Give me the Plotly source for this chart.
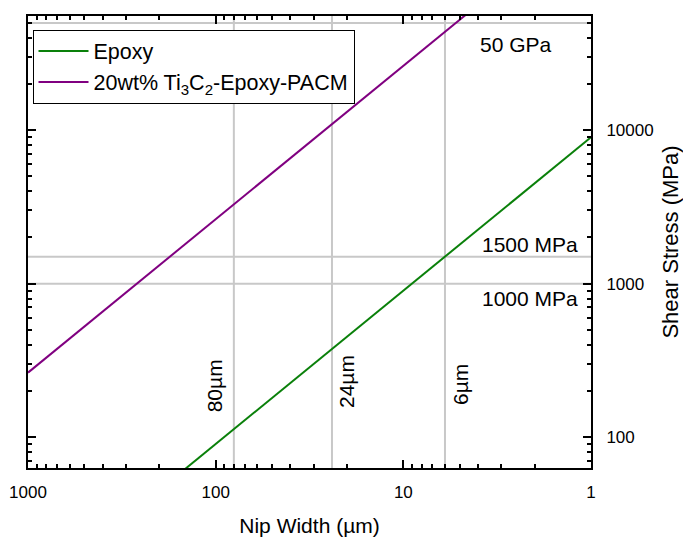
import math
import plotly.graph_objects as go

# Data
nip_width_um = [1000, 100, 10, 1]
stress_epoxy = [9, 90, 900, 9000]
stress_ti3c2 = [263, 2630, 26300, 263000]
ref_widths = [80, 24, 6]
ref_width_labels = ["80µm", "24µm", "6µm"]
ref_stresses = [50000, 1500, 1000]
ref_stress_labels = ["50 GPa", "1500 MPa", "1000 MPa"]

FONT = "Liberation Sans, Arial, sans-serif"
GRAY = "#c8c8c8"

x_minor = [m * 10 ** d for d in range(0, 3) for m in range(2, 10)]
y_minor = [m * 10 ** d for d in range(1, 5) for m in range(2, 10)]

fig = go.Figure()

for w in ref_widths:
    fig.add_trace(go.Scatter(x=[w, w], y=[10, 1e6], mode="lines",
                             line=dict(color=GRAY, width=2), showlegend=False, hoverinfo="skip"))
for s in ref_stresses:
    fig.add_trace(go.Scatter(x=[1e4, 0.1], y=[s, s], mode="lines",
                             line=dict(color=GRAY, width=2), showlegend=False, hoverinfo="skip"))

fig.add_trace(go.Scatter(x=nip_width_um, y=stress_epoxy, mode="lines", name="Epoxy",
                         line=dict(color="#0a800a", width=2)))
fig.add_trace(go.Scatter(x=nip_width_um, y=stress_ti3c2, mode="lines",
                         name="20wt% Ti<sub>3</sub>C<sub>2</sub>-Epoxy-PACM",
                         line=dict(color="#800080", width=2)))

AF = dict(size=21, color="black", family=FONT)
fig.add_annotation(x=0.40, y=math.log10(ref_stresses[0]), xref="x", yref="y", text=ref_stress_labels[0],
                   showarrow=False, yshift=-21, font=AF)
fig.add_annotation(x=0.325, y=math.log10(ref_stresses[1]), xref="x", yref="y", text=ref_stress_labels[1],
                   showarrow=False, yshift=12, font=AF)
fig.add_annotation(x=0.325, y=math.log10(ref_stresses[2]), xref="x", yref="y", text=ref_stress_labels[2],
                   showarrow=False, yshift=-15, font=AF)

label_shift = [(-19, 2.336), (14, 2.365), (16, 2.346)]
for w, txt, (xs, yl) in zip(ref_widths, ref_width_labels, label_shift):
    fig.add_annotation(x=math.log10(w), y=yl, xref="x", yref="y", text=txt,
                       showarrow=False, textangle=-90, xshift=xs, font=AF)

TF = dict(size=17, family=FONT, color="black")
fig.update_xaxes(type="log", range=[3, 0], showgrid=False, zeroline=False, automargin=False,
                 showline=True, linecolor="black", linewidth=2, mirror="ticks",
                 ticks="inside", ticklen=8, tickwidth=1.5, tickcolor="black",
                 tickvals=[1000, 100, 10, 1], ticktext=["1000", "100", "10", "1"],
                 ticklabelstandoff=8,
                 minor=dict(tickvals=x_minor, ticks="inside", ticklen=4, tickwidth=1.5,
                            tickcolor="black", showgrid=False),
                 tickfont=TF,
                 title=dict(text="Nip Width (µm)", font=dict(size=21, family=FONT, color="black"), standoff=20))
fig.update_yaxes(type="log", range=[1.798, 4.745], side="right", showgrid=False, zeroline=False,
                 automargin=False,
                 showline=True, linecolor="black", linewidth=2, mirror="ticks",
                 ticks="inside", ticklen=8, tickwidth=1.5, tickcolor="black",
                 tickvals=[100, 1000, 10000], ticktext=["100", "1000", "10000"],
                 ticklabelstandoff=10,
                 minor=dict(tickvals=y_minor, ticks="inside", ticklen=4, tickwidth=1.5,
                            tickcolor="black", showgrid=False),
                 tickfont=TF,
                 title=dict(text="Shear Stress (MPa)", font=dict(size=22, family=FONT, color="black"), standoff=14))

fig.update_layout(
    width=683, height=537,
    margin=dict(l=28, r=92, t=16, b=69),
    plot_bgcolor="white", paper_bgcolor="white",
    font=dict(family=FONT, color="black"),
    showlegend=True,
    legend=dict(x=0.008, y=0.97, xanchor="left", yanchor="top",
                bordercolor="black", borderwidth=1, bgcolor="white",
                font=dict(size=21.5, family=FONT, color="black"),
                tracegroupgap=0, itemwidth=50),
)

fig.write_html("out.html")
